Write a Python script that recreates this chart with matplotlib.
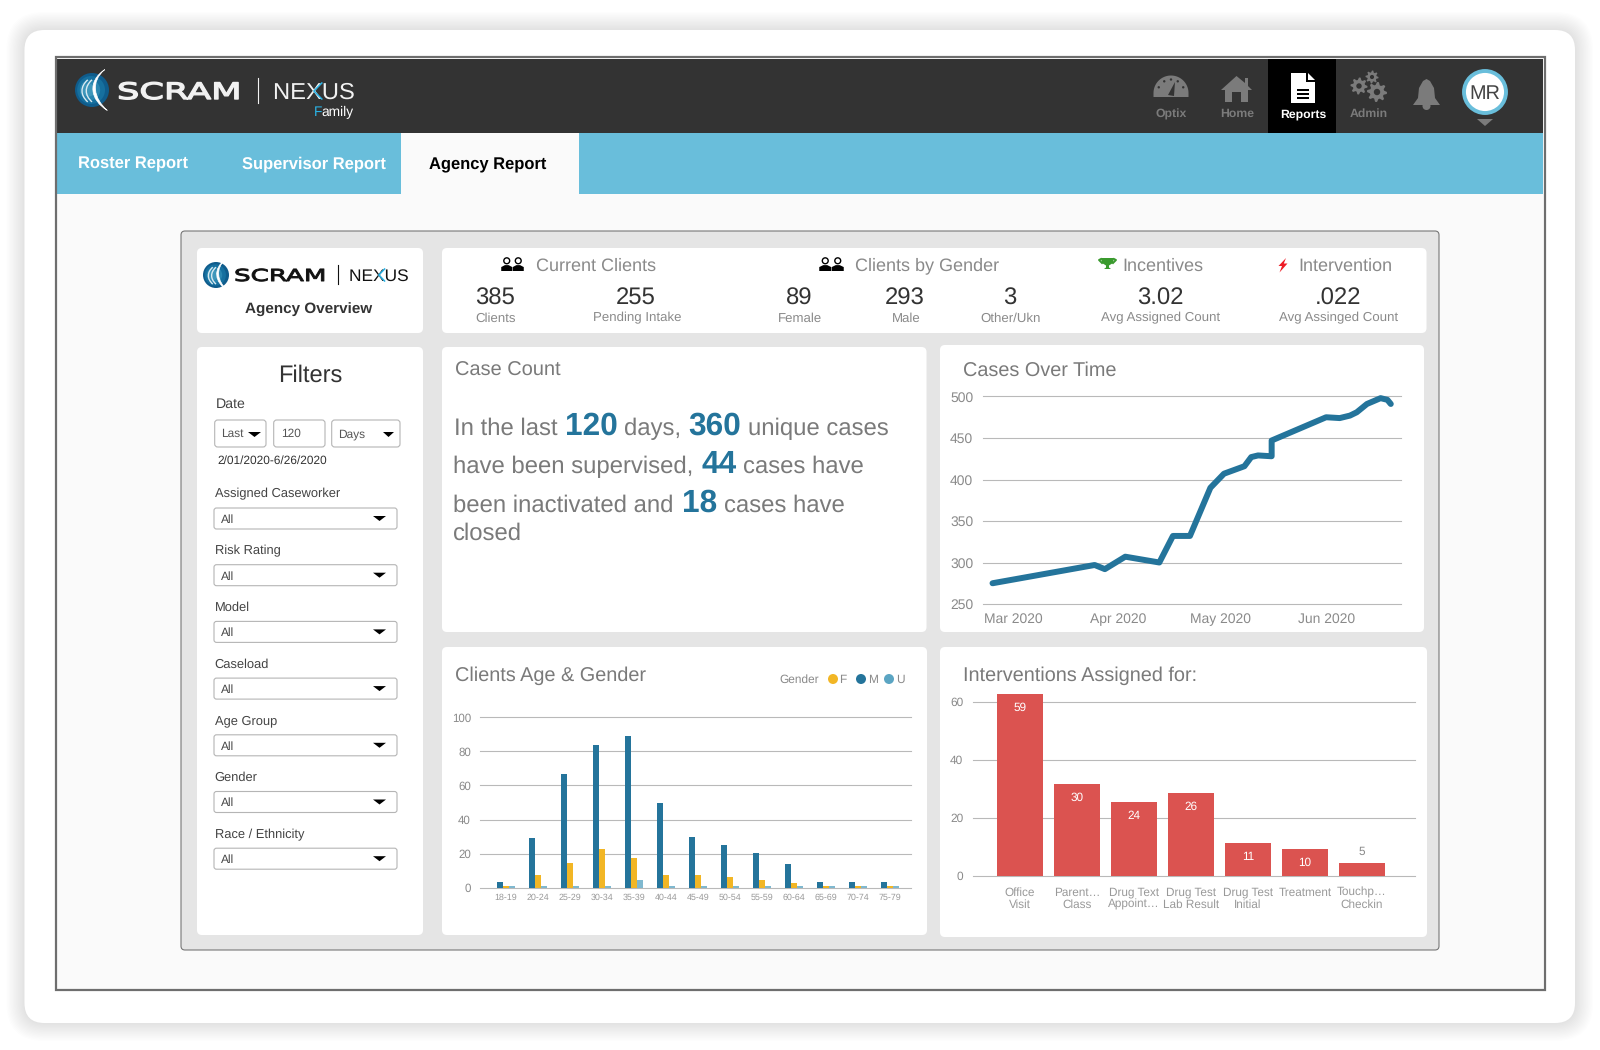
import numpy as np
import pandas as pd
import matplotlib
matplotlib.use("Agg")
import matplotlib.pyplot as plt
import matplotlib.dates as mdates
import matplotlib.patheffects as pe
from matplotlib.patches import FancyBboxPatch, Circle, Polygon, PathPatch, Rectangle
from matplotlib.path import Path
from matplotlib.transforms import Affine2D

plt.rcParams['font.family'] = ['Liberation Sans', 'DejaVu Sans']
plt.rcParams['text.hinting'] = 'none'

# dane wykresow
case_dates = ["2020-02-24", "2020-03-25", "2020-03-28", "2020-04-03", "2020-04-13", "2020-04-17",
              "2020-04-22", "2020-04-28", "2020-05-02", "2020-05-08", "2020-05-10", "2020-05-12",
              "2020-05-16", "2020-05-16", "2020-06-01", "2020-06-05", "2020-06-08", "2020-06-10",
              "2020-06-13", "2020-06-17", "2020-06-19", "2020-06-20"]
case_values = [275, 297, 292, 307, 300, 332, 332, 390, 407, 416, 427, 429,
               428, 447, 475, 474, 477, 481, 491, 498, 496, 491]
month_ticks = ["2020-03-01", "2020-04-01", "2020-05-01", "2020-06-01"]
month_labels = ["Mar 2020", "Apr 2020", "May 2020", "Jun 2020"]

age_groups = ["18-19", "20-24", "25-29", "30-34", "35-39", "40-44", "45-49",
              "50-54", "55-59", "60-64", "65-69", "70-74", "75-79"]
male_counts = [3.3, 29, 67, 84, 89, 50, 30, 25, 20.5, 14, 3.3, 3.3, 3.3]
female_counts = [1, 7.4, 14.5, 22.7, 17.4, 7.4, 7.4, 6.2, 4.5, 2.8, 1, 1, 1]
unknown_counts = [1, 1, 1, 1, 4.5, 1, 1, 1, 1, 1, 1, 1, 1]

intervention_names = ["Office\nVisit", "Parent\u2026\nClass", "Drug Text\nAppoint\u2026", "Drug Test\nLab Result",
                      "Drug Test\nInitial", "Treatment", "Touchp\u2026\nCheckin"]
intervention_heights = [62.9, 31.8, 25.6, 28.7, 11.4, 9.3, 4.5]
intervention_counts = [59, 30, 24, 26, 11, 10, 5]

kpi_values = ["385", "255", "89", "293", "3", "3.02", ".022"]
kpi_captions = ["Clients", "Pending Intake", "Female", "Male", "Other/Ukn", "Avg Assigned Count", "Avg Assinged Count"]
kpi_x = [495, 636, 799, 905, 1010, 1160, 1338]

filter_names = ["Assigned Caseworker", "Risk Rating", "Model", "Caseload", "Age Group", "Gender", "Race / Ethnicity"]

DARK = "#333333"
TAB_BLUE = "#69BEDB"
TEAL = "#24749B"
GOLD = "#F2B625"
LIGHT = "#7FB8CF"
RED = "#DB5350"
GRID = "#B9B9B9"
GREY_TXT = "#7A7A7A"
TICK_TXT = "#8A8A8A"

fig = plt.figure(figsize=(16, 10.5), dpi=100, facecolor="white")
ui = fig.add_axes([0, 0, 1, 1])
ui.set_xlim(0, 1600)
ui.set_ylim(1050, 0)
ui.axis("off")


class HStretch(pe.AbstractPathEffect):
    '''rozciaga tekst w poziomie, logo ma szeroki krój'''
    def __init__(self, x0, sx, stroke=0):
        super().__init__()
        self.x0 = x0
        self.sx = sx
        self.stroke = stroke

    def draw_path(self, renderer, gc, tpath, affine, rgbFace=None):
        t = affine + Affine2D().translate(-self.x0, 0).scale(self.sx, 1).translate(self.x0, 0)
        if self.stroke:
            gc0 = renderer.new_gc()
            gc0.copy_properties(gc)
            gc0.set_foreground(rgbFace)
            gc0.set_linewidth(self.stroke)
            renderer.draw_path(gc0, tpath, t, rgbFace)
            gc0.restore()
        else:
            renderer.draw_path(gc, tpath, t, rgbFace)


def box(x0, y0, x1, y1, color="white", r=5, edge="none", lw=0, z=2, alpha=None):
    ui.add_patch(FancyBboxPatch((x0, y0), x1 - x0, y1 - y0, boxstyle=f"round,pad=0,rounding_size={r}",
                                fc=color, ec=edge, lw=lw, zorder=z, alpha=alpha))


def rect(x0, y0, x1, y1, color, z=2):
    ui.add_patch(Rectangle((x0, y0), x1 - x0, y1 - y0, fc=color, ec="none", zorder=z))


def txt(x, y, s, size, color=GREY_TXT, ha="left", va="center", weight="normal", **kw):
    # y to srodek wielkich liter, liczony na linie bazowa zeby opisy z ogonkami nie skakaly
    if va == "center":
        y = y + 0.5 * size
        va = "baseline"
    return ui.text(x, y, s, fontsize=size, color=color, ha=ha, va=va, fontweight=weight, zorder=6, **kw)


def poly(pts, color, z=5):
    ui.add_patch(Polygon(pts, closed=True, fc=color, ec="none", zorder=z))


def down_tri(x0, x1, y0, y1, color="black"):
    poly([(x0, y0), (x1, y0), ((x0 + x1) / 2, y1)], color)


def axes_px(x0, y0, x1, y1):
    a = fig.add_axes([x0 / 1600, 1 - y1 / 1050, (x1 - x0) / 1600, (y1 - y0) / 1050])
    a.patch.set_visible(False)
    for s in a.spines.values():
        s.set_visible(False)
    a.set_axisbelow(True)
    a.grid(axis="y", color=GRID, lw=0.8)
    return a


def globe(cx, cy, r, z=5):
    for k, col in zip([1.0, 0.82, 0.6, 0.38], ["#0F5C8C", "#16709F", "#2A86B0", "#3F97BB"]):
        ui.add_patch(Circle((cx - (1 - k) * r * 0.3, cy), r * k, fc=col, ec="none", zorder=z))
    # lukowate pasy na kuli
    verts = [(cx + 0.75 * r, cy - 1.2 * r), (cx - 0.3 * r, cy - 0.5 * r), (cx - 0.1 * r, cy + 0.6 * r), (cx + 0.9 * r, cy + 1.2 * r),
             (cx + 0.1 * r, cy + 0.5 * r), (cx - 0.1 * r, cy - 0.5 * r), (cx + 0.75 * r, cy - 1.2 * r)]
    codes = [Path.MOVETO, Path.CURVE4, Path.CURVE4, Path.CURVE4, Path.CURVE4, Path.CURVE4, Path.CURVE4]
    ui.add_patch(PathPatch(Path(verts, codes), fc="white", ec="white", lw=0.5, zorder=z + 0.2))
    for dx in [-0.35, -0.6]:
        v = [(cx + (dx + 0.35) * r, cy - 0.6 * r), (cx + (dx - 0.1) * r, cy - 0.2 * r), (cx + (dx - 0.1) * r, cy + 0.3 * r), (cx + (dx + 0.35) * r, cy + 0.7 * r)]
        ui.add_patch(PathPatch(Path(v, [Path.MOVETO, Path.CURVE4, Path.CURVE4, Path.CURVE4]), fc="none", ec="#D8EAF2", lw=1.0, zorder=z + 0.2))


def logo(gx, gy, gr, sx0, sx1, nx0, cap_top, base, div_x, div_y0, div_y1, color, scram_size, nexus_size, nexus_stretch, stroke):
    globe(gx, gy, gr)
    natural = 3.575 * scram_size * 100 / 72
    t = txt(sx0, base, "SCRAM", scram_size, color=color, va="baseline", family="DejaVu Sans")
    t.set_path_effects([HStretch(sx0, (sx1 - sx0) / natural, stroke)])
    ui.plot([div_x, div_x], [div_y0, div_y1], color=color, lw=0.8, zorder=5)
    n = txt(nx0, base, "NEXUS", nexus_size, color=color, va="baseline")
    n.set_path_effects([HStretch(nx0, nexus_stretch)])
    em = nexus_size * 100 / 72 * nexus_stretch
    xm = nx0 + 1.389 * em
    xe = xm + 0.667 * em
    mid = (cap_top + base) / 2
    ui.plot([xe, (xm + xe) / 2, xe], [cap_top, mid, base], color="#2BB3E6", lw=1.1, zorder=7)


def people(x0, x1, y0, y1, color="black"):
    w = x1 - x0
    h = y1 - y0
    for c in [x0 + w * 0.25, x0 + w * 0.75]:
        poly([(c - w * 0.24, y1), (c - w * 0.24, y0 + h * 0.72), (c - w * 0.08, y0 + h * 0.58),
              (c + w * 0.08, y0 + h * 0.58), (c + w * 0.24, y0 + h * 0.72), (c + w * 0.24, y1)], color)
        ui.add_patch(Circle((c, y0 + h * 0.27), h * 0.21, fc="white", ec=color, lw=1.0, zorder=5.2))


def gear(cx, cy, r, color):
    ang = np.linspace(0, 2 * np.pi, 33)[:-1]
    rad = np.where((np.arange(32) % 4) < 2, r, r * 0.72)
    poly(np.column_stack([cx + rad * np.cos(ang), cy + rad * np.sin(ang)]), color)
    ui.add_patch(Circle((cx, cy), r * 0.32, fc=DARK, ec="none", zorder=5.5))


# tlo, cien i karta
for i in range(14):
    grow = 1.3 * (14 - i)
    box(24.5 - grow, 30 - grow, 1575 + grow, 1023 + grow, color="black", r=20 + grow, z=1, alpha=0.006)
box(24.5, 30, 1575, 1023, color="white", r=20, z=1.5)

# ramka aplikacji
rect(57, 59, 1543, 989, "#FAFAFA", z=2)
ui.add_patch(Rectangle((56, 57), 1489, 933, fc="none", ec="#6E6E6E", lw=1.6, zorder=3))
rect(57, 59, 1543, 133, DARK, z=2.2)
rect(57, 133, 1543, 194, TAB_BLUE, z=2.2)
rect(401, 133, 579, 194, "#FAFAFA", z=2.3)
rect(1268, 59, 1336, 133, "black", z=2.3)

# logo w naglowku
logo(92, 90, 17, 117, 243, 273, 83, 99, 258, 78, 103, "#F2F2F2", 16.3, 16.6, 1.03, 1.0)
txt(354, 116, "amily", 9.9, color="white", ha="right", va="baseline")
txt(322, 116, "F", 9.9, color="#2BB3E6", ha="right", va="baseline")

# zakladki
txt(78, 163, "Roster Report", 11.9, color="white", weight="bold")
txt(242.3, 163, "Supervisor Report", 11.9, color="white", weight="bold")
txt(428.6, 163, "Agency Report", 11.9, color="black", weight="bold")

# ikony nawigacji
NAV = "#7B7B7B"
th = np.radians(np.linspace(180, 360, 40))
poly(np.column_stack([1171 + 17.5 * np.cos(th), 93 + 17.5 * np.sin(th)]).tolist() + [(1188.5, 97), (1153.5, 97)], NAV)
for a in [205, 240, 270, 300, 335]:
    ra = np.radians(a)
    ui.add_patch(Circle((1171 + 13.5 * np.cos(ra), 93 + 13.5 * np.sin(ra)), 1.2, fc=DARK, ec="none", zorder=5.5))
poly([(1168, 95), (1174, 96), (1175, 82)], DARK, z=5.5)

poly([(1236.5, 76), (1245, 83), (1245, 78), (1248, 78), (1248, 86), (1252, 90), (1248, 90), (1248, 102),
      (1241, 102), (1241, 92), (1232, 92), (1232, 102), (1225, 102), (1225, 90), (1221, 90)], NAV)

poly([(1291, 73), (1306, 73), (1306, 82), (1315, 82), (1315, 103), (1291, 103)], "white")
poly([(1308, 73), (1315, 80), (1308, 80)], "white")
for yy in [90, 94, 98]:
    rect(1297, yy - 0.8, 1309, yy + 0.8, "black", z=6)

gear(1359, 86, 8.5, NAV)
gear(1372, 77, 6.5, NAV)
gear(1377, 92, 10, NAV)

poly([(1413, 105), (1418, 98), (1419, 88), (1423, 81), (1426.5, 79), (1430, 81), (1434, 88), (1435, 98), (1440, 105)], NAV)
ui.add_patch(Circle((1426.5, 106), 4, fc=NAV, ec="none", zorder=5))

for lab, xc, col in [("Optix", 1171, NAV), ("Home", 1237, NAV), ("Reports", 1303, "white"), ("Admin", 1369, NAV)]:
    txt(xc, 117.3, lab, 8.8, color=col, ha="center", va="baseline", weight="bold")

ui.add_patch(Circle((1485, 92), 21, fc="white", ec=TAB_BLUE, lw=2.8, zorder=5))
txt(1485, 91.5, "MR", 14.3, color="#444444", ha="center")
down_tri(1477, 1493, 119, 126, NAV)

# szary panel raportu
box(181, 231, 1439, 950, color="#E5E5E5", r=4, edge="#777777", lw=0.8, z=2.5)
for b in [(197, 248, 423, 333), (442, 248, 1426.5, 333), (197, 347, 423, 935), (442, 347, 926.5, 632),
          (940, 345, 1424, 632), (442, 647, 927, 935), (940, 647, 1427, 937)]:
    box(*b, color="white", r=5, z=3)

# logo w panelu
logo(216, 275, 13, 234, 327.5, 349, 269, 281, 338, 265, 284, "#111111", 11.9, 12.1, 1.03, 0.7)
txt(309, 308, "Agency Overview", 11, color=DARK, ha="center", weight="bold")

# kafelki KPI
people(501, 524, 257, 271)
txt(535.5, 264, "Current Clients", 13, color="#8A8A8A")
people(819, 844, 257, 271)
txt(855, 264, "Clients by Gender", 13, color="#8A8A8A")
txt(1122.6, 264, "Incentives", 13, color="#8A8A8A")
txt(1298, 264, "Intervention", 13, color="#8A8A8A")
# puchar
GREEN = "#3A9A2E"
poly([(1101, 258), (1114, 258), (1113, 263), (1109, 265.5), (1109, 267.5), (1111, 269), (1104, 269), (1106, 267.5), (1106, 265.5), (1102, 263)], GREEN)
ui.plot([1101, 1099, 1102], [259, 260, 263], color=GREEN, lw=1.4, zorder=5)
ui.plot([1114, 1116, 1113], [259, 260, 263], color=GREEN, lw=1.4, zorder=5)
# blyskawica
poly([(1286, 258), (1278.5, 266), (1282, 266), (1279.5, 272.5), (1287.5, 263.5), (1283.8, 263.5)], "#EE1C25")

for xc, v, c in zip(kpi_x, kpi_values, kpi_captions):
    txt(xc, 296, v, 17.2, color=DARK, ha="center")
    txt(xc + 1, 317, c, 9.5, color="#8A8A8A", ha="center")

# filtry
txt(310.7, 373, "Filters", 17, color=DARK, ha="center")
txt(215.7, 403, "Date", 10.2, color="#444444")
for x0, x1, lab, lx in [(214.7, 266, "Last", 221), (273.7, 325, "120", 281), (331.7, 400, "Days", 338.3)]:
    box(x0, 420, x1, 447, color="white", r=3, edge="#B5B5B5", lw=0.8, z=4)
    txt(lx, 433, lab, 8.6, color="#555555")
down_tri(248, 261, 432, 437)
down_tri(383, 394, 432, 437)
txt(217, 460, "2/01/2020-6/26/2020", 8.6, color=DARK)
for i, name in enumerate(filter_names):
    top = 508 + 56.7 * i
    txt(214.7, top - 15, name, 9.3, color="#444444")
    box(214, top, 397, top + 21, color="white", r=2.5, edge="#B5B5B5", lw=0.8, z=4)
    txt(220.7, top + 10.5, "All", 8.6, color="#444444")
    down_tri(373, 386, top + 8, top + 13)

# tekst Case Count
txt(455, 369, "Case Count", 14.4)
BODY = 17.2
BIG = 22.8
body_runs = [(454, 435, "In the last", 0), (565, 435, "120", 1), (624.3, 435, "days,", 0), (688.3, 435, "360", 1),
             (748.3, 435, "unique cases", 0), (453, 473, "have been supervised,", 0), (701.7, 473, "44", 1),
             (743.3, 473, "cases have", 0), (453, 511.7, "been inactivated and", 0), (682.3, 511.7, "18", 1),
             (723.7, 511.7, "cases have", 0), (453, 540, "closed", 0)]
for x, y, s, big in body_runs:
    if big:
        txt(x, y, s, BIG, color=TEAL, va="baseline", weight="bold")
    else:
        txt(x, y, s, BODY, va="baseline")

# tytuly wykresow
txt(963, 369, "Cases Over Time", 14.3)
txt(455, 674, "Clients Age & Gender", 14.3)
txt(963, 674, "Interventions Assigned for:", 14.3)

# wykres liniowy
ax1 = axes_px(983, 396.5, 1401, 604)
dates = pd.to_datetime(case_dates)
ax1.plot(dates, case_values, color=TEAL, lw=4.3, solid_joinstyle="round", solid_capstyle="round", clip_on=False, zorder=5)
ax1.set_ylim(250, 500)
ax1.set_yticks([250, 300, 350, 400, 450, 500])
ax1.set_xlim(pd.Timestamp("2020-03-01") - pd.Timedelta(days=8.8), pd.Timestamp("2020-03-01") + pd.Timedelta(days=114))
ax1.set_xticks(mdates.date2num(pd.to_datetime(month_ticks)))
ax1.set_xticklabels(month_labels)
ax1.tick_params(axis="y", length=0, pad=7, labelsize=10, labelcolor=TICK_TXT)
ax1.tick_params(axis="x", length=0, pad=6.5, labelsize=10, labelcolor=TICK_TXT)
for lab in ax1.get_yticklabels():
    lab.set_va("center_baseline")

# slupki wiek i plec
ax2 = axes_px(480, 717.3, 911, 887.7)
xs = np.arange(len(age_groups))
bw = 0.1875
ax2.bar(xs - bw, male_counts, bw, color=TEAL, zorder=3)
ax2.bar(xs, female_counts, bw, color=GOLD, zorder=3)
ax2.bar(xs + bw, unknown_counts, bw, color=LIGHT, zorder=3)
ax2.set_xlim(-0.8125, 12.66)
ax2.set_ylim(0, 100)
ax2.set_yticks([0, 20, 40, 60, 80, 100])
ax2.set_xticks(xs)
ax2.set_xticklabels(age_groups)
ax2.tick_params(axis="y", length=0, pad=6.5, labelsize=8.3, labelcolor=TICK_TXT)
ax2.tick_params(axis="x", length=0, pad=4, labelsize=6.4, labelcolor="#999999")

txt(779, 679, "Gender", 8.6, color=TICK_TXT)
for dot_x, lab_x, lab, col in [(833, 839, "F", GOLD), (861, 868, "M", TEAL), (889, 896, "U", "#5BA5C3")]:
    ui.add_patch(Circle((dot_x, 679), 5, fc=col, ec="none", zorder=5))
    txt(lab_x, 679, lab, 8.6, color=TICK_TXT)

# slupki interwencje
ax3 = axes_px(973, 702, 1415, 876)
xi = np.arange(len(intervention_names))
bars = ax3.bar(xi, intervention_heights, 46 / 57, color=RED, zorder=3, clip_on=False)
ax3.set_xlim(-0.825, 6.93)
ax3.set_ylim(0, 60)
ax3.set_yticks([0, 20, 40, 60])
ax3.set_xticks(xi)
ax3.set_xticklabels(intervention_names, linespacing=1.05, va="top")
ax3.tick_params(axis="y", length=0, pad=7, labelsize=8.6, labelcolor=TICK_TXT)
ax3.tick_params(axis="x", length=0, pad=8, labelsize=8.5, labelcolor="#999999")
for lab in ax3.get_yticklabels():
    lab.set_va("center_baseline")
for b, n in zip(bars, intervention_counts):
    outside = b.get_height() < 6
    ax3.annotate(str(n), (b.get_x() + b.get_width() / 2, b.get_height()), xytext=(0, 8 if outside else -10),
                 textcoords="offset points", ha="center", va="center", fontsize=8.5,
                 color=TICK_TXT if outside else "white", zorder=6, annotation_clip=False)

for a in [ax1, ax2, ax3]:
    for g in a.get_ygridlines():
        g.set_clip_on(False)

fig.savefig("out.png", dpi=100, facecolor="white")
